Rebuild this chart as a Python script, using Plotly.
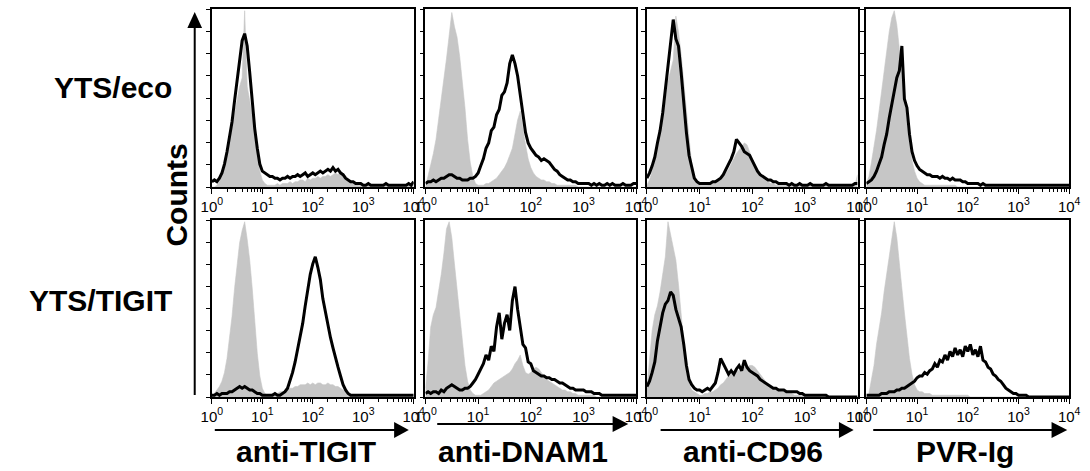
import plotly.graph_objects as go

W, H = 1090, 471

# ---- bins: log10 fluorescence channel, 0.05-decade steps from 10^0 to 10^4 ----
log_channel = [round(0.05 * i, 2) for i in range(81)]
channel = [10 ** v for v in log_channel]

tick_vals = [1, 10, 100, 1000, 10000]
tick_text = ["10<sup>0</sup>", "10<sup>1</sup>", "10<sup>2</sup>", "10<sup>3</sup>", "10<sup>4</sup>"]

row_labels = ["YTS/eco", "YTS/TIGIT"]
col_labels = ["anti-TIGIT", "anti-DNAM1", "anti-CD96", "PVR-Ig"]
y_title = "Counts"

# ---- counts (% of panel height); gray = control, black = stain ----
tigit_eco_ctrl = [0,0,1,3,6,11,18,26,34,43,50,57,62,100,57,49,41,29,19,9,4,2,
                  1,1,1,1,2,1,2,2,2,3,2,3,3,4,4,3,5,4,5,5,6,5,6,6,7,6,7,8,7,9,8,6,4,3,2,2,1,1,
                  1,1,1,1,1,1,1,1,1,1,1,1,1,1,1,1,1,1,1,1,1]
tigit_eco_stain = [3,4,3,5,8,13,20,28,37,49,61,74,83,87,80,65,48,33,22,13,9,8,
                   7,6,6,5,5,4,5,5,6,5,6,6,7,6,7,8,6,7,8,7,8,9,8,9,10,9,11,9,10,8,7,5,4,3,3,2,2,2,
                   1,1,2,1,1,1,1,1,1,2,1,1,1,1,1,1,1,1,2,1,3]

tigit_tigit_ctrl = [0,2,4,6,9,14,22,33,46,62,76,88,95,100,90,78,62,42,25,12,5,2,
                    1,1,2,2,2,3,3,4,4,5,5,6,6,7,7,7,8,7,8,7,8,8,7,7,8,7,7,6,6,5,4,3,2,1,1,1,0,0,
                    0,0,0,0,0,0,0,0,0,0,0,0,0,0,0,0,0,0,0,0,0]
tigit_tigit_stain = [1,1,2,1,2,2,2,3,3,4,5,6,5,6,5,4,4,3,2,2,1,1,
                     1,1,1,2,1,1,2,3,5,9,14,20,27,34,42,52,62,70,76,80,74,67,56,48,41,34,28,22,17,12,7,4,2,1,1,1,1,1,
                     1,1,1,1,1,1,1,1,1,1,1,1,1,1,1,1,1,1,1,1,1]

dnam1_eco_ctrl = [0,6,12,19,27,38,51,63,73,86,99,91,85,74,61,45,27,14,6,2,1,1,
                  1,2,2,3,4,5,7,9,11,14,18,22,30,38,43,33,24,16,11,8,6,5,4,4,3,3,2,2,1,1,1,1,1,1,1,1,0,0,
                  0,0,0,0,0,0,0,0,0,0,0,0,0,0,0,0,0,0,0,0,0]
dnam1_eco_stain = [2,3,3,4,3,4,5,5,6,7,7,6,5,5,4,4,4,5,5,6,8,12,
                   16,22,25,32,34,41,44,52,54,59,70,75,70,63,52,42,31,25,22,20,18,17,15,16,15,14,12,10,9,7,6,5,4,4,3,3,2,2,
                   2,2,2,1,2,1,2,1,1,2,1,2,1,1,1,2,1,1,1,2,2]

dnam1_tigit_ctrl = [5,20,40,47,51,60,70,82,96,100,91,76,62,46,32,18,9,4,2,1,1,1,
                    2,3,4,6,8,9,10,11,12,13,14,16,19,21,24,18,14,13,14,16,17,16,14,12,10,9,8,7,6,5,4,4,3,3,2,2,1,1,
                    1,1,1,1,1,0,0,0,0,0,0,0,0,0,0,0,0,0,0,0,0]
dnam1_tigit_stain = [2,3,2,3,3,2,4,3,5,6,7,6,5,4,4,5,5,6,8,10,13,16,
                     19,24,21,29,26,40,48,33,42,47,38,55,63,50,41,30,28,20,19,15,14,13,12,12,11,11,10,10,9,8,8,7,6,5,5,4,4,4,
                     4,3,3,3,2,2,2,1,1,1,1,1,1,1,1,1,1,1,1,1,1]

cd96_eco_ctrl = [1,4,9,17,24,32,40,49,60,67,72,97,88,75,58,44,28,13,6,3,1,1,
                 1,1,2,2,3,4,5,7,8,10,13,16,19,21,23,25,24,20,15,11,8,6,5,4,3,2,2,1,1,1,1,1,1,1,1,1,1,1,
                 1,1,1,1,1,1,1,1,1,1,1,1,1,1,1,1,1,1,1,1,7]
cd96_eco_stain = [5,8,12,17,25,32,42,55,68,82,95,84,80,65,46,31,18,11,5,3,2,2,
                  2,2,2,3,3,4,5,7,10,13,16,20,27,25,23,20,19,18,15,12,9,7,6,5,4,4,3,3,2,2,2,2,1,2,1,1,2,1,
                  1,1,2,1,1,1,1,1,2,1,1,1,1,1,1,1,1,1,1,2,2]

cd96_tigit_ctrl = [5,20,38,47,52,60,70,80,100,93,86,78,64,47,30,14,8,4,3,2,1,1,
                   2,2,3,3,4,5,7,8,10,12,13,14,15,15,16,17,17,18,18,17,15,13,11,9,7,6,5,4,4,3,3,2,2,2,1,1,1,1,
                   1,1,1,1,1,1,0,0,0,0,0,0,0,0,0,0,0,0,0,0,0]
cd96_tigit_stain = [6,9,14,20,32,40,48,53,55,60,58,50,45,40,30,18,10,7,5,4,4,3,
                    4,5,4,6,8,14,22,19,16,13,15,13,16,18,15,21,17,15,14,13,12,10,9,8,7,6,5,5,4,4,4,3,3,3,3,3,2,2,
                    1,1,1,1,1,1,1,1,1,0,0,0,0,0,0,0,0,0,0,0,0]

pvr_eco_ctrl = [2,6,14,22,32,43,54,66,78,88,96,100,92,80,65,52,36,24,15,9,5,3,
                2,1,1,1,1,1,1,1,1,1,1,1,1,1,0,0,0,0,0,0,0,0,0,0,0,0,0,0,0,0,0,0,0,0,0,0,0,0,
                0,0,0,0,0,0,0,0,0,0,0,0,0,0,0,0,0,0,0,0,0]
pvr_eco_stain = [2,3,4,6,9,13,17,24,30,39,47,56,62,66,80,50,45,30,20,15,12,10,
                 9,8,7,7,6,6,6,5,6,5,5,4,5,4,4,4,3,3,2,2,2,2,2,1,2,1,1,1,1,1,1,1,1,1,1,1,1,1,
                 1,1,1,1,1,1,1,1,1,1,1,1,1,1,1,1,1,1,1,1,1]

pvr_tigit_ctrl = [0,2,10,18,30,38,48,60,70,80,90,100,91,78,62,48,34,22,13,7,4,3,
                  3,2,2,2,1,1,1,1,1,1,1,1,1,1,1,1,1,1,1,0,0,0,0,0,0,0,0,0,0,0,0,0,0,0,0,0,0,0,
                  0,0,0,0,0,0,0,0,0,0,0,0,0,0,0,0,0,0,0,0,0]
pvr_tigit_stain = [1,1,1,1,1,1,2,2,2,3,3,3,4,4,5,5,6,7,8,9,11,12,
                   12,14,13,15,16,19,17,21,20,24,21,26,23,28,24,27,23,29,26,30,24,27,23,29,21,20,17,16,13,12,10,9,7,5,4,3,2,2,
                   1,1,1,1,0,0,0,0,0,0,0,0,0,0,0,0,0,0,0,0,0]

panels = [
    [(tigit_eco_ctrl, tigit_eco_stain), (dnam1_eco_ctrl, dnam1_eco_stain),
     (cd96_eco_ctrl, cd96_eco_stain), (pvr_eco_ctrl, pvr_eco_stain)],
    [(tigit_tigit_ctrl, tigit_tigit_stain), (dnam1_tigit_ctrl, dnam1_tigit_stain),
     (cd96_tigit_ctrl, cd96_tigit_stain), (pvr_tigit_ctrl, pvr_tigit_stain)],
]
for row in panels:
    for a, b in row:
        assert len(a) == 81 and len(b) == 81, (len(a), len(b))

# ---- layout geometry (pixels) ----
col_px = [(205, 411), (423, 638), (649, 864), (873, 1080)]
row_px = [(9, 187), (220, 397)]

def px(x):
    return x / W

def py(y):
    return 1 - y / H

FONT = "Liberation Sans, Arial, sans-serif"
GRAY = "#c6c6c6"

fig = go.Figure()
layout = dict(width=W, height=H, margin=dict(l=0, r=0, t=0, b=0),
              paper_bgcolor="white", plot_bgcolor="white", showlegend=False,
              font=dict(family=FONT, color="black"))

k = 0
for r in range(2):
    for c in range(4):
        k += 1
        ctrl, stain = panels[r][c]
        xa = "x" if k == 1 else f"x{k}"
        ya = "y" if k == 1 else f"y{k}"
        fig.add_trace(go.Scatter(x=channel, y=ctrl, mode="lines", fill="tozeroy",
                                 fillcolor=GRAY, line=dict(color=GRAY, width=0.6),
                                 xaxis=xa, yaxis=ya, hoverinfo="skip"))
        fig.add_trace(go.Scatter(x=channel, y=stain, mode="lines",
                                 line=dict(color="black", width=3),
                                 xaxis=xa, yaxis=ya, hoverinfo="skip"))
        x0, x1 = col_px[c]
        y0, y1 = row_px[r]
        layout[f"xaxis{k}" if k > 1 else "xaxis"] = dict(
            type="log", range=[0, 4], domain=[px(x0), px(x1)], anchor=ya,
            showline=True, mirror=True, linecolor="black", linewidth=1.5,
            showgrid=False, zeroline=False,
            tickmode="array", tickvals=tick_vals, ticktext=tick_text,
            ticks="outside", ticklen=5, tickwidth=1, tickcolor="black",
            tickfont=dict(size=15, family=FONT, color="black"),
            minor=dict(ticks="outside", ticklen=3, tickwidth=1, tickcolor="black",
                       dtick="D1", showgrid=False),
        )
        layout[f"yaxis{k}" if k > 1 else "yaxis"] = dict(
            range=[0, 101], domain=[py(y1), py(y0)], anchor=xa,
            showline=True, mirror=True, linecolor="black", linewidth=1.8,
            showgrid=False, zeroline=False, showticklabels=False,
            tickmode="linear", tick0=0, dtick=101 / 8,
            ticks="outside", ticklen=4, tickwidth=1, tickcolor="black",
        )

annotations = []
# row labels
for text, yc in zip(row_labels, [88, 300]):
    annotations.append(dict(text=f"<b>{text}</b>", x=px(166), y=py(yc), xref="paper", yref="paper",
                            xanchor="right", yanchor="middle", showarrow=False,
                            font=dict(size=30, family=FONT, color="black")))
# y title
annotations.append(dict(text=f"<b>{y_title}</b>", x=px(168), y=py(195), xref="paper", yref="paper",
                        xanchor="center", yanchor="middle", textangle=-90, showarrow=False,
                        font=dict(size=30, family=FONT, color="black")))
# column titles
for text, xc in zip(col_labels, [301, 523, 757, 974]):
    annotations.append(dict(text=f"<b>{text}</b>", x=px(xc), y=py(451), xref="paper", yref="paper",
                            xanchor="center", yanchor="middle", showarrow=False,
                            font=dict(size=30, family=FONT, color="black")))
layout["annotations"] = annotations

# arrows (shapes)
shapes = []
# vertical Counts arrow
shapes.append(dict(type="line", xref="paper", yref="paper", x0=px(187.5), x1=px(187.5),
                   y0=py(395), y1=py(26), line=dict(color="black", width=2)))
shapes.append(dict(type="path", xref="paper", yref="paper",
                   path=f"M {px(180)},{py(28)} L {px(195)},{py(28)} L {px(187.5)},{py(12)} Z",
                   fillcolor="black", line=dict(color="black", width=0)))
h_arrows = [(208, 391, 406, 430), (435, 614, 630, 424), (663, 845, 860, 430), (880, 1062, 1078, 430)]
for xs, xh, xt, ya_ in h_arrows:
    shapes.append(dict(type="line", xref="paper", yref="paper", x0=px(xs), x1=px(xh + 2),
                       y0=py(ya_), y1=py(ya_), line=dict(color="black", width=2)))
    shapes.append(dict(type="path", xref="paper", yref="paper",
                       path=f"M {px(xh)},{py(ya_ - 8)} L {px(xh)},{py(ya_ + 8)} L {px(xt)},{py(ya_)} Z",
                       fillcolor="black", line=dict(color="black", width=0)))
layout["shapes"] = shapes

fig.update_layout(**layout)
fig.write_html("out.html", config={"displayModeBar": False},
               post_script="document.body.style.margin='0px';document.body.style.overflow='hidden';")
